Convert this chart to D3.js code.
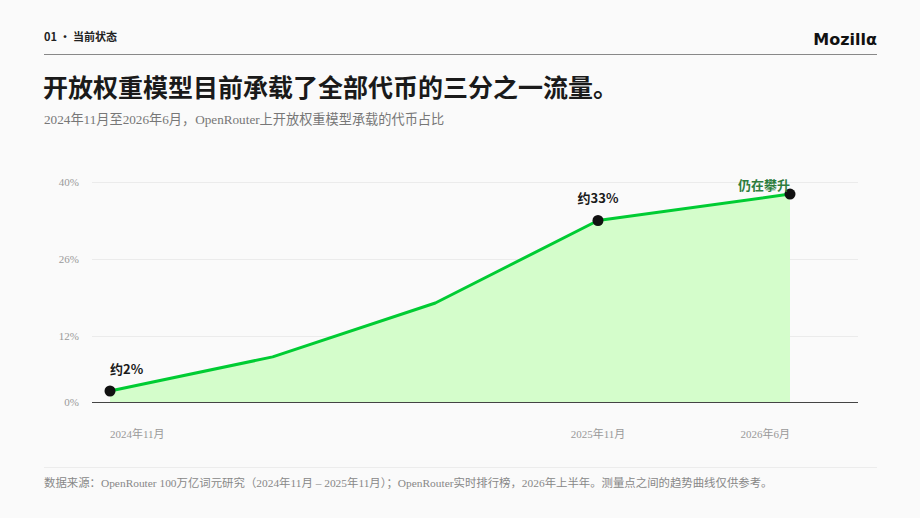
<!DOCTYPE html>
<html>
<head>
<meta charset="utf-8">
<script src="https://cdn.jsdelivr.net/npm/d3@7"></script>
<style>
  body { margin: 0; background: #fafafa; }
  svg { display: block; }
</style>
</head>
<body>
<div id="chart"></div>
<script>
// data
var months = ["2024-11", "2025-03", "2025-07", "2025-11", "2026-06"];
var shares = [2, 8.2, 18, 33, 37.8];
var yTicks = [0, 12, 26, 40];
var xTickMonths = ["2024-11", "2025-11", "2026-06"];
var xTickLabels = ["2024年11月", "2025年11月", "2026年6月"];
var noteIdx = [0, 3, 4];
var noteText = ["约2%", "约33%", "仍在攀升"];

var W = 920, H = 518;
var serif = "'Liberation Serif','Noto Sans CJK SC',serif";
var sans = "'Noto Sans CJK SC','Noto Sans',sans-serif";

// month offset from Nov 2024
function mIdx(s) { var p = s.split("-"); return (+p[0] - 2024) * 12 + (+p[1]) - 11; }

var svg = d3.select("#chart").append("svg")
    .attr("width", W).attr("height", H)
    .style("background", "#fafafa");

// header
svg.append("text").attr("x", 44).attr("y", 41)
    .style("font-family", sans).style("font-weight", 700).style("font-size", "11px")
    .attr("fill", "#222").text("01 · 当前状态");
svg.append("text").attr("x", 877).attr("y", 45).attr("text-anchor", "end")
    .style("font-family", "'DejaVu Sans',sans-serif").style("font-weight", 700).style("font-size", "16px")
    .attr("fill", "#111").text("Mozillα");
svg.append("line").attr("x1", 44).attr("x2", 877).attr("y1", 54.5).attr("y2", 54.5)
    .attr("stroke", "#888").attr("stroke-width", 1);

// title + subtitle
svg.append("text").attr("x", 43).attr("y", 97)
    .style("font-family", sans).style("font-weight", 700).style("font-size", "25px")
    .attr("fill", "#1a1a1a").text("开放权重模型目前承载了全部代币的三分之一流量。");
svg.append("text").attr("x", 44).attr("y", 124)
    .style("font-family", serif).style("font-size", "13.2px")
    .attr("fill", "#777").text("2024年11月至2026年6月，OpenRouter上开放权重模型承载的代币占比");

// scales
var x = d3.scaleLinear().domain([0, 12, 19]).range([110, 598, 790]);
var y = d3.scaleLinear().domain([0, 40]).range([402, 182]);

var data = months.map(function(m, i) { return { m: mIdx(m), v: shares[i] }; });

// grid
svg.append("g").selectAll("line").data(yTicks.filter(function(t) { return t > 0; })).enter()
  .append("line")
    .attr("x1", 92).attr("x2", 858)
    .attr("y1", function(d) { return y(d) + 0.5; }).attr("y2", function(d) { return y(d) + 0.5; })
    .attr("stroke", "#ebebeb").attr("stroke-width", 1);

// y labels
svg.append("g").selectAll("text").data(yTicks).enter()
  .append("text")
    .attr("x", 79).attr("y", function(d) { return y(d) + 4; })
    .attr("text-anchor", "end")
    .style("font-family", serif).style("font-size", "11px")
    .attr("fill", "#999").text(function(d) { return d + "%"; });

// area + line
svg.append("path").datum(data)
    .attr("fill", "#d4fdcb")
    .attr("d", d3.area().x(function(d) { return x(d.m); }).y0(y(0)).y1(function(d) { return y(d.v); }));

svg.append("line").attr("x1", 92).attr("x2", 858).attr("y1", y(0) + 0.5).attr("y2", y(0) + 0.5)
    .attr("stroke", "#444").attr("stroke-width", 1);

svg.append("path").datum(data)
    .attr("fill", "none").attr("stroke", "#00cc33").attr("stroke-width", 3)
    .attr("stroke-linejoin", "round")
    .attr("d", d3.line().x(function(d) { return x(d.m); }).y(function(d) { return y(d.v); }));

// measured points
svg.append("g").selectAll("circle").data(noteIdx).enter()
  .append("circle")
    .attr("cx", function(i) { return x(data[i].m); })
    .attr("cy", function(i) { return y(data[i].v); })
    .attr("r", 5.5).attr("fill", "#111");

// annotations
var anchors = ["start", "middle", "end"];
var dys = [-17, -18, -4];
var colors = ["#1a1a1a", "#1a1a1a", "#2e7d3e"];
svg.append("g").selectAll("text").data(noteIdx).enter()
  .append("text")
    .attr("x", function(i) { return x(data[i].m); })
    .attr("y", function(i, k) { return y(data[i].v) + dys[k]; })
    .attr("text-anchor", function(i, k) { return anchors[k]; })
    .style("font-family", sans).style("font-weight", 700).style("font-size", "13px")
    .attr("fill", function(i, k) { return colors[k]; })
    .text(function(i, k) { return noteText[k]; });

// x labels
svg.append("g").selectAll("text").data(xTickMonths).enter()
  .append("text")
    .attr("x", function(d) { return x(mIdx(d)); })
    .attr("y", 438)
    .attr("text-anchor", function(d, k) { return anchors[k]; })
    .style("font-family", serif).style("font-size", "11px")
    .attr("fill", "#999").text(function(d, k) { return xTickLabels[k]; });

// footer
svg.append("line").attr("x1", 44).attr("x2", 877).attr("y1", 467.5).attr("y2", 467.5)
    .attr("stroke", "#ececec").attr("stroke-width", 1);
svg.append("text").attr("x", 44).attr("y", 487)
    .style("font-family", serif).style("font-size", "11.4px")
    .attr("fill", "#888")
    .text("数据来源：OpenRouter 100万亿词元研究（2024年11月 – 2025年11月）；OpenRouter实时排行榜，2026年上半年。测量点之间的趋势曲线仅供参考。");
</script>
</body>
</html>
